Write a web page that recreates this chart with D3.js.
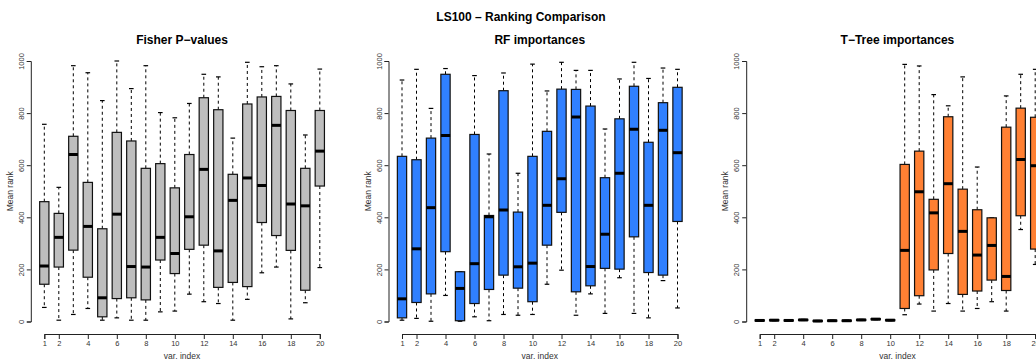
<!DOCTYPE html>
<html>
<head>
<meta charset="utf-8">
<script src="https://cdn.jsdelivr.net/npm/d3@7"></script>
<style>
  body { margin: 0; background: #fff; }
  svg { display: block; font-family: "Liberation Sans", Arial, Helvetica, sans-serif; }
</style>
</head>
<body>
<svg id="chart" width="1036" height="360"></svg>
<script>
// Variable indices (categories) and axis ticks
const varIndex = [1, 2, 3, 4, 5, 6, 7, 8, 9, 10, 11, 12, 13, 14, 15, 16, 17, 18, 19, 20];
const xTickValues = [1, 2, 4, 6, 8, 10, 12, 14, 16, 18, 20];
const yTickValues = [0, 200, 400, 600, 800, 1000];

// Fisher P-values: box statistics of the mean rank per variable
const fisherLo  = [54, 5, 27, 50, 5, 14, 5, 5, 37, 40, 105, 76, 69, 5, 85, 187, 209, 10, 72, 207];
const fisherQ1  = [143, 209, 274, 170, 18, 88, 91, 83, 236, 184, 277, 293, 131, 150, 134, 380, 330, 273, 120, 520];
const fisherMed = [213, 323, 641, 365, 91, 412, 211, 209, 323, 261, 402, 584, 271, 465, 551, 522, 753, 451, 444, 654];
const fisherQ3  = [460, 415, 711, 534, 356, 726, 693, 588, 606, 513, 641, 859, 813, 565, 835, 862, 864, 810, 588, 810];
const fisherHi  = [757, 515, 982, 955, 848, 1000, 894, 982, 802, 782, 837, 949, 939, 704, 995, 978, 982, 912, 716, 969];

// RF importances
const rfLo  = [5, 12, 1, 100, 1, 18, 3, 27, 24, 27, 143, 197, 24, 106, 31, 168, 31, 14, 157, 52];
const rfQ1  = [14, 73, 106, 268, 3, 69, 123, 178, 128, 76, 293, 419, 114, 137, 204, 201, 325, 188, 178, 384];
const rfMed = [87, 279, 437, 714, 127, 222, 402, 428, 210, 224, 446, 548, 785, 211, 335, 569, 738, 446, 734, 648];
const rfQ3  = [634, 621, 704, 949, 191, 718, 407, 886, 420, 634, 730, 892, 891, 827, 552, 778, 903, 688, 840, 899];
const rfHi  = [927, 968, 818, 971, 191, 944, 643, 954, 569, 988, 885, 995, 964, 964, 739, 931, 995, 933, 973, 968];

// T-Tree importances
const ttLo  = [2, 3, 2, 4, 0, 1, 1, 4, 7, 3, 26, 67, 40, 69, 40, 50, 76, 40, 353, 219];
const ttQ1  = [2, 3, 2, 4, 0, 1, 1, 4, 7, 3, 50, 99, 198, 261, 104, 117, 159, 119, 406, 278];
const ttMed = [4, 5, 4, 6, 2, 3, 3, 6, 9, 5, 273, 498, 417, 529, 346, 255, 292, 173, 622, 598];
const ttQ3  = [6, 7, 6, 8, 4, 5, 5, 8, 11, 7, 603, 654, 469, 786, 508, 429, 398, 746, 819, 784];
const ttHi  = [6, 7, 6, 8, 4, 5, 5, 8, 11, 7, 987, 981, 871, 828, 939, 593, 398, 866, 949, 968];

const panelTitles = ["Fisher P\u2212values", "RF importances", "T\u2212Tree importances"];
const panelFills = ["#bebebe", "#3080ff", "#ff8033"];
const mainTitle = "LS100 \u2013 Ranking Comparison";

const panels = [
  { lo: fisherLo, q1: fisherQ1, med: fisherMed, q3: fisherQ3, hi: fisherHi },
  { lo: rfLo, q1: rfQ1, med: rfMed, q3: rfQ3, hi: rfHi },
  { lo: ttLo, q1: ttQ1, med: ttMed, q3: ttQ3, hi: ttHi }
];

const svg = d3.select("#chart");
svg.append("rect").attr("width", 1036).attr("height", 360).attr("fill", "#fff");

svg.append("text")
  .attr("x", 521).attr("y", 21)
  .attr("text-anchor", "middle")
  .attr("font-weight", "bold").attr("font-size", 12)
  .text(mainTitle);

const panelStep = 357.7;
const firstX = 44.3;
const span = 275.5;

panels.forEach((p, pi) => {
  const x0 = firstX + pi * panelStep;
  const x = d3.scaleLinear().domain([1, 20]).range([x0, x0 + span]);
  const y = d3.scaleLinear().domain([0, 1000]).range([321.5, 61]);
  const step = x(2) - x(1);
  const bw = step * 0.64;
  const cap = bw * 0.25;

  const g = svg.append("g");

  // panel title
  g.append("text")
    .attr("x", (x(1) + x(20)) / 2).attr("y", 43.5)
    .attr("text-anchor", "middle")
    .attr("font-weight", "bold").attr("font-size", 12)
    .text(panelTitles[pi]);

  // x axis, drawn below the plot region
  const xAxis = g.append("g")
    .attr("transform", "translate(0,334)")
    .call(d3.axisBottom(x).tickValues(xTickValues).tickFormat(d3.format("d"))
      .tickSizeOuter(0).tickSize(5).tickPadding(2));
  xAxis.select(".domain").attr("stroke", "#222");
  xAxis.selectAll(".tick line").attr("stroke", "#222");
  xAxis.selectAll("text").attr("font-size", 7.5).attr("fill", "#333").attr("font-family", null);

  // y axis, left of the plot region with rotated labels
  const yAxisX = x(1) - 13.5;
  const yAxis = g.append("g")
    .attr("transform", `translate(${yAxisX},0)`)
    .call(d3.axisLeft(y).tickValues(yTickValues).tickFormat(d3.format("d"))
      .tickSizeOuter(0).tickSize(4).tickPadding(2));
  yAxis.select(".domain").attr("stroke", "#222");
  yAxis.selectAll(".tick line").attr("stroke", "#222");
  yAxis.selectAll("text")
    .attr("font-size", 7.5).attr("fill", "#333").attr("font-family", null)
    .attr("text-anchor", "middle")
    .attr("dy", null)
    .attr("x", null)
    .attr("transform", "translate(-7,0) rotate(-90)");

  // axis titles
  g.append("text")
    .attr("x", (x(1) + x(20)) / 2).attr("y", 359)
    .attr("text-anchor", "middle").attr("font-size", 8.5).attr("fill", "#333")
    .text("var. index");
  g.append("text")
    .attr("transform", `translate(${yAxisX - 18},${y(500)}) rotate(-90)`)
    .attr("text-anchor", "middle").attr("font-size", 8.5).attr("fill", "#333")
    .text("Mean rank");

  // boxes
  const boxes = g.selectAll("g.box")
    .data(varIndex.map((v, i) => ({ v, lo: p.lo[i], q1: p.q1[i], med: p.med[i], q3: p.q3[i], hi: p.hi[i] })))
    .join("g").attr("class", "box");

  // dashed whiskers
  boxes.append("line")
    .attr("x1", d => x(d.v)).attr("x2", d => x(d.v))
    .attr("y1", d => y(d.q3)).attr("y2", d => y(d.hi))
    .attr("stroke", "#000").attr("stroke-width", 1).attr("stroke-dasharray", "3,3");
  boxes.append("line")
    .attr("x1", d => x(d.v)).attr("x2", d => x(d.v))
    .attr("y1", d => y(d.q1)).attr("y2", d => y(d.lo))
    .attr("stroke", "#000").attr("stroke-width", 1).attr("stroke-dasharray", "3,3");

  // staples
  boxes.append("line")
    .attr("x1", d => x(d.v) - cap).attr("x2", d => x(d.v) + cap)
    .attr("y1", d => y(d.hi)).attr("y2", d => y(d.hi))
    .attr("stroke", "#000").attr("stroke-width", 1.2);
  boxes.append("line")
    .attr("x1", d => x(d.v) - cap).attr("x2", d => x(d.v) + cap)
    .attr("y1", d => y(d.lo)).attr("y2", d => y(d.lo))
    .attr("stroke", "#000").attr("stroke-width", 1.2);

  // interquartile box
  boxes.append("rect")
    .attr("x", d => x(d.v) - bw / 2).attr("width", bw)
    .attr("y", d => y(d.q3)).attr("height", d => y(d.q1) - y(d.q3))
    .attr("fill", panelFills[pi])
    .attr("stroke", "#111").attr("stroke-width", 1.2);

  // median
  boxes.append("line")
    .attr("x1", d => x(d.v) - bw / 2).attr("x2", d => x(d.v) + bw / 2)
    .attr("y1", d => y(d.med)).attr("y2", d => y(d.med))
    .attr("stroke", "#000").attr("stroke-width", 3);
});
</script>
</body>
</html>
